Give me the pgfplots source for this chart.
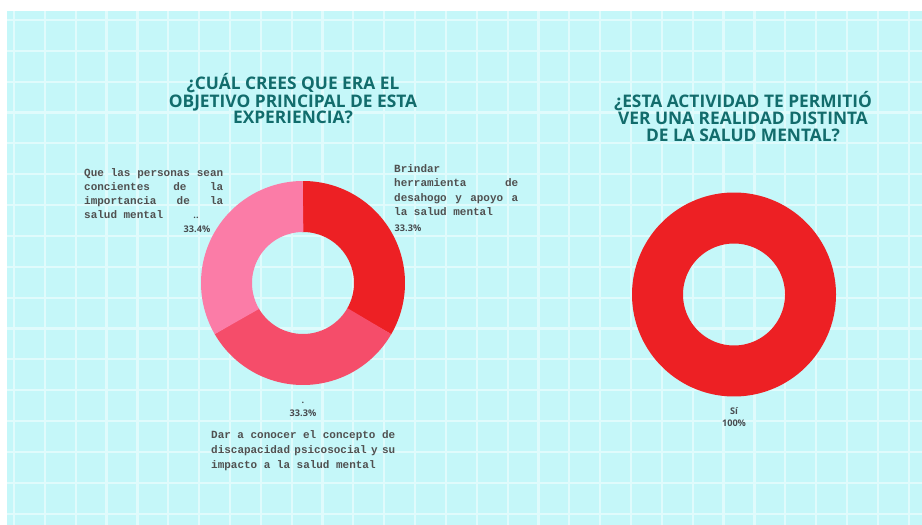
\documentclass[border=0pt]{standalone}
\usepackage{pgfplots}
\pgfplotsset{compat=1.18}
\usepackage{fontspec}
\setmainfont{Open Sans}
\newfontfamily\titlefont{Open Sans}
\newfontfamily\labfont{Liberation Mono}
\definecolor{bgc}{RGB}{197,247,249}
\definecolor{gridc}{RGB}{224,251,252}
\definecolor{redc}{RGB}{237,32,36}
\definecolor{midc}{RGB}{245,77,106}
\definecolor{pinkc}{RGB}{251,124,167}
\definecolor{titlec}{RGB}{18,108,108}
\definecolor{labc}{RGB}{80,80,80}
\definecolor{pctc}{RGB}{72,76,80}
\begin{document}
\begin{tikzpicture}
\begin{axis}[
  x=1bp, y=1bp, scale only axis,
  xmin=0, xmax=922, ymin=0, ymax=525, y dir=reverse,
  axis line style={draw=none},
  xtick={14,44.85,...,922}, ytick={20,50.85,...,525},
  xmajorticks=false, ymajorticks=false,
  xmajorgrids=true, ymajorgrids=true,
  grid style={draw=gridc, line width=2.2bp},
  axis background/.style={fill=bgc},
  no markers, clip=true,
]
% white margins
\fill[white] (axis cs:0,0) rectangle (axis cs:922,11);
\fill[white] (axis cs:0,0) rectangle (axis cs:7,525);

% Left donut: 33.3 (red), 33.3 (mid), 33.4 (pink), clockwise from top
% (each earlier slice runs 0.4 degrees under the next one, to hide seams)
\addplot[draw=redc, line width=51bp, domain={90-3.6*33.3-0.4}:{90+0.4}, samples=90]
  ({303+76.5*cos(x)},{283-76.5*sin(x)});
\addplot[draw=midc, line width=51bp, domain={90-3.6*(33.3+33.3)-0.4}:{90-3.6*33.3}, samples=90]
  ({303+76.5*cos(x)},{283-76.5*sin(x)});
\addplot[draw=pinkc, line width=51bp, domain={90-3.6*(33.3+33.3+33.4)}:{90-3.6*(33.3+33.3)}, samples=90]
  ({303+76.5*cos(x)},{283-76.5*sin(x)});

% Right donut: 100
\addplot[draw=redc, line width=51bp, domain={90-3.6*100-1}:{90+1}, samples=240]
  ({734+76.5*cos(x)},{294.5-76.5*sin(x)});

% Titles
\begin{scope}[every node/.style={inner sep=0pt, anchor=base, text=titlec, font=\titlefont\bfseries\fontsize{17.4}{17}\selectfont}]
\node at (axis cs:293,90) {¿CUÁL CREES QUE ERA EL};
\node at (axis cs:293,107.3) {OBJETIVO PRINCIPAL DE ESTA};
\node at (axis cs:293,124) {EXPERIENCIA?};
\node at (axis cs:743,107.3) {¿ESTA ACTIVIDAD TE PERMITIÓ};
\node at (axis cs:743,124.3) {VER UNA REALIDAD DISTINTA};
\node at (axis cs:743,141.5) {DE LA SALUD MENTAL?};
\end{scope}

% Category labels
\begin{scope}[every node/.style={inner sep=0pt, anchor=base west, text=labc, font=\labfont\bfseries\fontsize{11}{14}\selectfont}]
\node at (axis cs:84,177) {\hbox to 139bp{Que\hfill las\hfill personas\hfill sean}};
\node at (axis cs:84,191) {\hbox to 139bp{concientes\hfill de\hfill la}};
\node at (axis cs:84,205) {\hbox to 139bp{importancia\hfill de\hfill la}};
\node at (axis cs:84,219) {salud mental};
\node at (axis cs:394,173) {Brindar};
\node at (axis cs:394,187) {\hbox to 124bp{herramienta\hfill de}};
\node at (axis cs:394,201.5) {\hbox to 124bp{desahogo\hfill y\hfill apoyo\hfill a}};
\node at (axis cs:394,216) {la salud mental};
\node at (axis cs:211,438.5) {\hbox to 184bp{Dar\hfill a\hfill conocer\hfill el\hfill concepto\hfill de}};
\node at (axis cs:211,453.5) {\hbox to 184bp{discapacidad\hfill psicosocial\hfill y\hfill su}};
\node at (axis cs:211,468) {impacto a la salud mental};
\end{scope}

% Percentages
\begin{scope}[every node/.style={inner sep=0pt, anchor=base, text=pctc, font=\bfseries\fontsize{9.2}{10}\selectfont}]
\node at (axis cs:196,219) {..};
\node at (axis cs:197,232.7) {33.4\%};
\node at (axis cs:408,232) {33.3\%};
\node at (axis cs:303,403) {.};
\node at (axis cs:303,416.7) {33.3\%};
\node at (axis cs:734,414) {Sí};
\node at (axis cs:734,426.7) {100\%};
\end{scope}
\end{axis}
\pgfresetboundingbox
\path (current axis.south west) rectangle (current axis.north east);
\end{tikzpicture}
\end{document}
